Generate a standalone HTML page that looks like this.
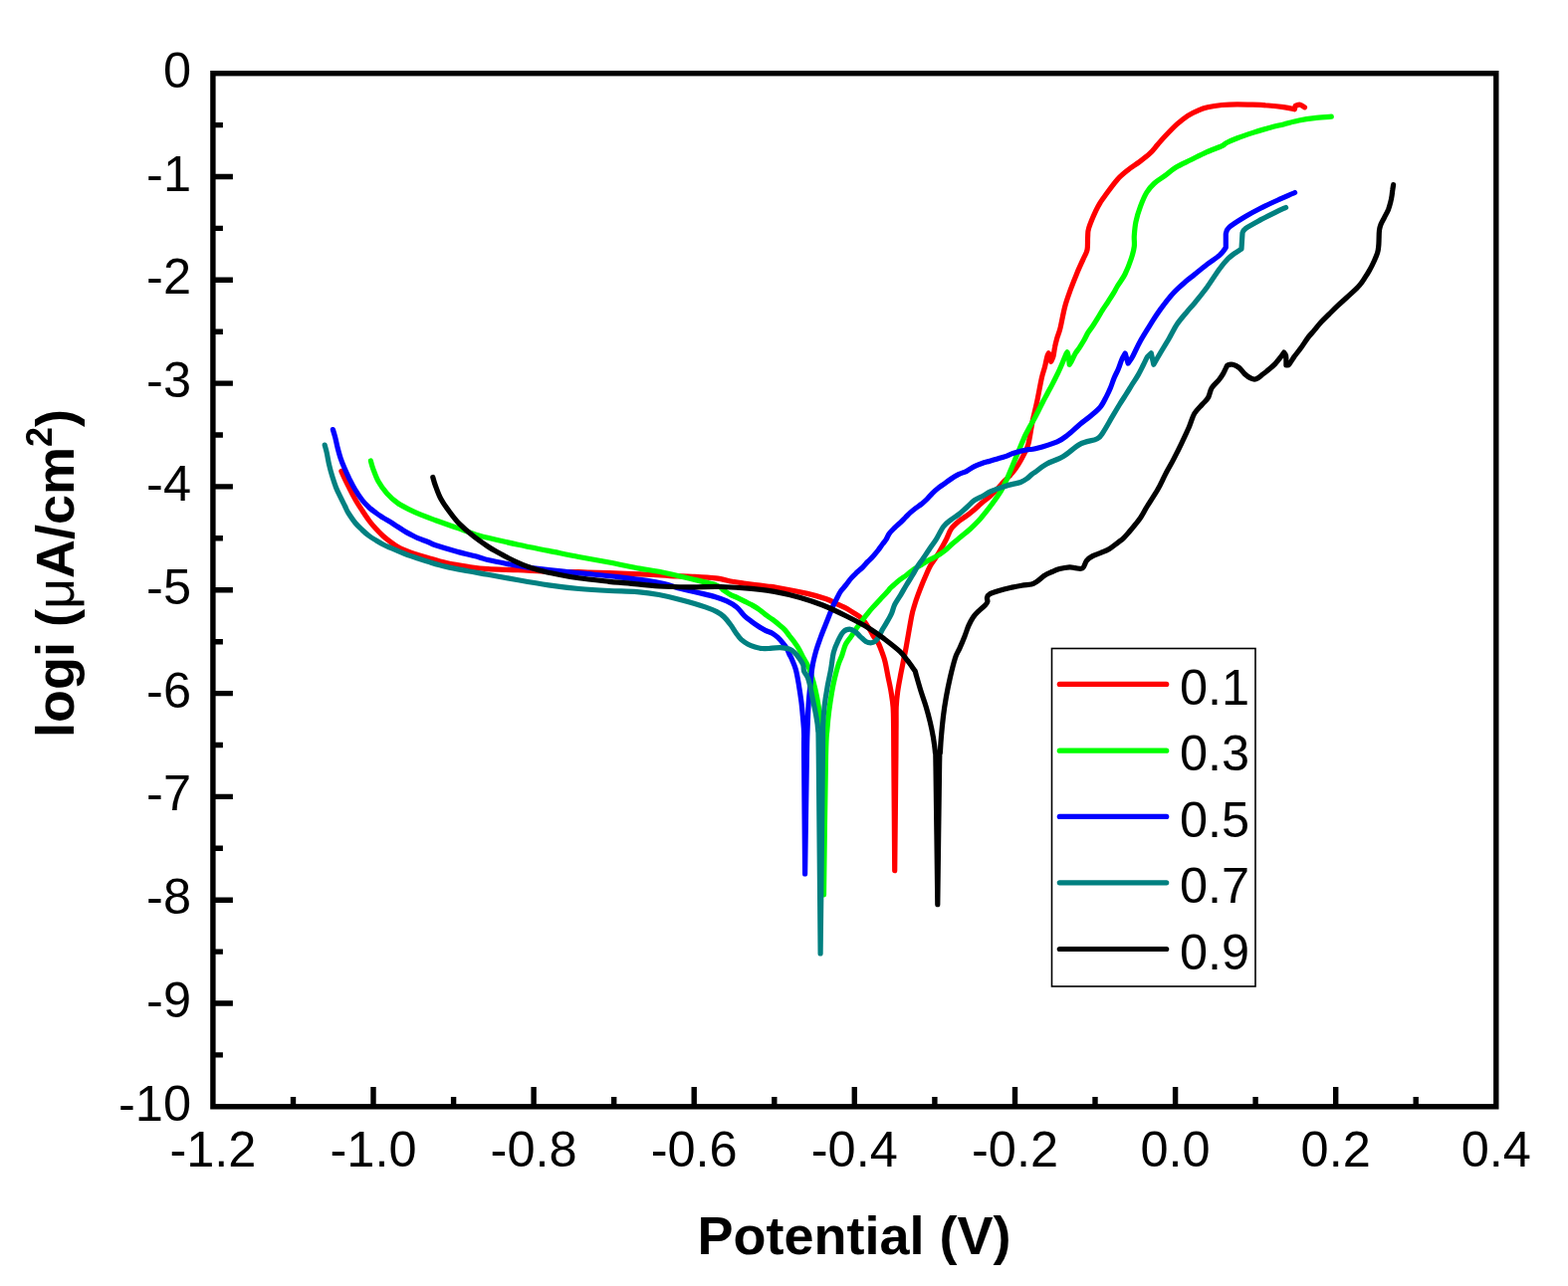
<!DOCTYPE html>
<html><head><meta charset="utf-8"><title>Polarization curves</title>
<style>html,body{margin:0;padding:0;background:#fff;width:1575px;height:1292px;overflow:hidden}svg{display:block}</style>
</head><body>
<svg width="1575" height="1292" viewBox="0 0 1575 1292"><path d="M294.5 1111.8V1102.0M375.0 1111.8V1091.9M455.6 1111.8V1102.0M536.1 1111.8V1091.9M616.7 1111.8V1102.0M697.2 1111.8V1091.9M777.8 1111.8V1102.0M858.3 1111.8V1091.9M938.9 1111.8V1102.0M1019.5 1111.8V1091.9M1100.0 1111.8V1102.0M1180.6 1111.8V1091.9M1261.1 1111.8V1102.0M1341.7 1111.8V1091.9M1422.2 1111.8V1102.0M213.9 125.6H223.9M213.9 177.5H233.9M213.9 229.4H223.9M213.9 281.3H233.9M213.9 333.2H223.9M213.9 385.1H233.9M213.9 437.0H223.9M213.9 488.9H233.9M213.9 540.8H223.9M213.9 592.8H233.9M213.9 644.7H223.9M213.9 696.6H233.9M213.9 748.5H223.9M213.9 800.4H233.9M213.9 852.3H223.9M213.9 904.2H233.9M213.9 956.1H223.9M213.9 1008.0H233.9M213.9 1059.9H223.9" stroke="#000" stroke-width="5.4" fill="none"/>
<rect x="213.9" y="73.7" width="1288.9" height="1038.1" stroke="#000" stroke-width="5.4" fill="none"/>
<g font-family="&quot;Liberation Sans&quot;, sans-serif" font-size="50.5" fill="#000"><text x="213.9" y="1172" text-anchor="middle">-1.2</text><text x="375.0" y="1172" text-anchor="middle">-1.0</text><text x="536.1" y="1172" text-anchor="middle">-0.8</text><text x="697.2" y="1172" text-anchor="middle">-0.6</text><text x="858.3" y="1172" text-anchor="middle">-0.4</text><text x="1019.5" y="1172" text-anchor="middle">-0.2</text><text x="1180.6" y="1172" text-anchor="middle">0.0</text><text x="1341.7" y="1172" text-anchor="middle">0.2</text><text x="1502.8" y="1172" text-anchor="middle">0.4</text><text x="192" y="87.7" text-anchor="end">0</text><text x="192" y="191.5" text-anchor="end">-1</text><text x="192" y="295.3" text-anchor="end">-2</text><text x="192" y="399.1" text-anchor="end">-3</text><text x="192" y="502.9" text-anchor="end">-4</text><text x="192" y="606.8" text-anchor="end">-5</text><text x="192" y="710.6" text-anchor="end">-6</text><text x="192" y="814.4" text-anchor="end">-7</text><text x="192" y="918.2" text-anchor="end">-8</text><text x="192" y="1022.0" text-anchor="end">-9</text><text x="192" y="1125.8" text-anchor="end">-10</text></g>
<text x="858" y="1260" text-anchor="middle" font-family="&quot;Liberation Sans&quot;, sans-serif" font-weight="bold" font-size="54">Potential (V)</text>
<text transform="translate(74 576) rotate(-90)" text-anchor="middle" font-family="&quot;Liberation Sans&quot;, sans-serif" font-weight="bold" font-size="54">logi (<tspan font-weight="normal">&#956;</tspan>A/cm<tspan font-size="36" dy="-22">2</tspan><tspan dy="22">)</tspan></text>
<path d="M342.9 473.4 C343.5 474.8 345.3 479.0 346.7 481.9 C348.1 484.8 349.3 487.1 351.0 490.5 C352.7 493.9 354.9 498.2 357.0 502.0 C359.1 505.8 361.6 509.5 363.9 513.0 C366.2 516.5 368.6 520.1 370.9 523.2 C373.2 526.3 375.6 529.1 377.9 531.6 C380.2 534.1 382.5 536.4 384.8 538.5 C387.1 540.6 389.5 542.4 391.8 544.1 C394.1 545.9 396.5 547.6 398.8 549.0 C401.1 550.4 403.4 551.5 405.7 552.5 C408.0 553.5 410.4 554.5 412.7 555.3 C415.0 556.1 416.8 556.5 419.7 557.4 C422.6 558.3 425.2 559.1 430.0 560.5 C434.8 561.9 441.6 564.1 448.3 565.6 C455.0 567.1 463.1 568.4 470.0 569.4 C476.9 570.4 481.6 571.2 490.0 571.7 C498.4 572.2 510.3 572.3 520.5 572.7 C530.7 573.1 540.9 573.9 551.0 574.2 C561.1 574.5 571.2 574.5 581.4 574.7 C591.5 575.0 600.5 575.3 611.9 575.7 C623.3 576.1 639.8 576.7 650.0 577.2 C660.2 577.7 665.3 578.2 672.9 578.6 C680.5 579.0 688.1 578.9 695.7 579.3 C703.3 579.7 711.9 580.1 718.6 580.9 C725.3 581.7 731.0 583.4 735.7 584.3 C740.5 585.1 741.3 585.2 747.1 586.0 C752.9 586.8 764.8 588.3 770.3 589.0 C775.8 589.7 773.2 589.0 780.0 590.2 C786.8 591.4 802.7 594.5 811.0 596.4 C819.3 598.3 825.3 600.2 830.0 601.8 C834.7 603.4 836.2 604.7 839.3 606.1 C842.4 607.5 845.8 609.0 848.6 610.4 C851.4 611.8 853.6 613.3 856.0 614.8 C858.4 616.2 860.7 617.5 862.8 619.1 C864.9 620.8 866.6 622.5 868.4 624.7 C870.2 626.9 871.8 629.6 873.4 632.1 C875.0 634.6 876.2 637.1 877.7 639.6 C879.2 642.1 881.2 643.9 882.7 647.0 C884.2 650.1 885.9 655.2 887.0 658.2 C888.1 661.2 888.2 661.4 889.1 665.1 C890.0 668.8 891.1 675.2 892.1 680.2 C893.1 685.2 894.3 690.3 895.1 695.3 C895.9 700.3 896.7 704.6 897.1 710.4 C897.5 716.2 897.5 721.7 897.6 730.0 C897.7 738.3 897.6 735.9 897.8 760.0 C898.0 784.1 898.6 855.5 898.7 874.6 C898.9 855.5 899.7 784.1 899.9 760.0 C900.1 735.9 900.0 738.3 900.1 730.0 C900.2 721.7 900.0 716.2 900.2 710.4 C900.5 704.6 900.9 700.3 901.6 695.3 C902.3 690.3 903.3 685.2 904.2 680.2 C905.1 675.2 906.2 670.1 907.2 665.1 C908.2 660.1 908.8 657.7 910.2 650.0 C911.6 642.3 914.3 626.1 915.7 619.0 C917.1 611.9 917.8 610.9 918.8 607.4 C919.8 603.9 920.7 601.3 921.9 598.1 C923.1 594.9 924.5 591.2 925.8 588.0 C927.1 584.8 928.3 582.0 929.7 578.8 C931.1 575.6 932.5 571.9 934.3 568.7 C936.1 565.5 938.7 562.2 940.5 559.4 C942.3 556.6 943.4 554.7 945.1 551.7 C946.8 548.7 948.9 545.0 950.6 541.6 C952.3 538.2 953.4 534.3 955.5 531.3 C957.6 528.3 960.6 525.8 963.2 523.6 C965.8 521.4 968.4 520.1 971.0 518.2 C973.6 516.3 976.1 514.2 978.7 512.0 C981.3 509.8 983.8 507.2 986.4 505.0 C989.0 502.8 991.6 501.1 994.2 498.8 C996.8 496.5 999.6 493.6 1001.9 491.1 C1004.2 488.7 1006.2 486.2 1008.1 484.1 C1010.0 482.0 1011.7 480.6 1013.5 478.7 C1015.3 476.8 1017.2 474.7 1018.9 472.5 C1020.6 470.3 1022.0 468.1 1023.6 465.5 C1025.2 462.9 1026.7 460.2 1028.2 457.0 C1029.8 453.8 1031.4 451.9 1032.9 446.2 C1034.4 440.5 1035.7 430.1 1037.2 422.9 C1038.7 415.7 1040.3 410.0 1041.8 402.8 C1043.3 395.6 1045.1 385.2 1046.4 379.5 C1047.7 373.8 1048.6 372.3 1049.5 368.7 C1050.4 365.1 1051.2 360.2 1051.9 357.9 C1052.6 355.6 1053.2 355.3 1053.4 354.8 C1053.8 356.2 1055.3 361.9 1055.7 363.3 C1056.1 362.4 1057.3 360.3 1058.0 357.9 C1058.7 355.4 1058.9 351.7 1059.6 348.6 C1060.2 345.5 1061.0 342.5 1061.9 339.3 C1062.8 336.1 1063.7 334.9 1065.0 329.7 C1066.3 324.5 1067.9 314.7 1069.7 308.0 C1071.5 301.3 1073.9 295.1 1075.9 289.4 C1078.0 283.7 1080.0 278.9 1082.0 274.0 C1084.0 269.1 1086.5 263.9 1088.2 260.0 C1089.9 256.1 1091.4 254.3 1092.1 250.7 C1092.8 247.1 1092.3 242.0 1092.6 238.4 C1092.9 234.8 1092.3 233.6 1093.7 229.1 C1095.1 224.6 1098.8 216.0 1100.8 211.7 C1102.8 207.3 1103.7 205.9 1105.5 203.0 C1107.3 200.1 1108.9 198.1 1111.7 194.3 C1114.5 190.5 1118.9 184.2 1122.5 180.2 C1126.1 176.2 1129.8 173.4 1133.4 170.5 C1137.0 167.6 1140.6 165.6 1144.2 162.9 C1147.8 160.2 1151.9 157.1 1155.0 154.2 C1158.1 151.3 1159.9 148.6 1162.6 145.5 C1165.3 142.4 1168.0 139.2 1171.3 135.8 C1174.5 132.4 1178.5 128.2 1182.1 124.9 C1185.7 121.7 1189.4 118.7 1193.0 116.3 C1196.6 113.9 1200.5 112.2 1203.8 110.8 C1207.1 109.4 1209.1 108.7 1213.0 107.8 C1216.9 106.9 1222.4 106.0 1227.4 105.5 C1232.4 105.0 1237.7 104.8 1242.9 104.8 C1248.1 104.8 1253.2 105.0 1258.4 105.2 C1263.6 105.4 1268.7 105.6 1273.8 106.0 C1278.9 106.4 1284.9 107.0 1289.3 107.6 C1293.7 108.2 1298.6 109.4 1300.4 109.8 C1300.5 109.2 1301.1 106.8 1301.2 106.2 C1302.0 106.0 1304.4 104.9 1305.9 105.2 C1307.5 105.5 1309.7 107.5 1310.5 107.9" stroke="#ff0000" stroke-width="5.2" fill="none" stroke-linejoin="round" stroke-linecap="round"/>
<path d="M372.4 463.0 C372.8 464.3 373.4 467.3 374.7 470.8 C376.0 474.3 377.8 479.7 380.1 483.8 C382.4 487.9 385.4 492.1 388.7 495.7 C391.9 499.3 395.1 502.4 399.6 505.5 C404.1 508.6 409.5 511.3 415.8 514.2 C422.1 517.1 430.3 520.1 437.5 522.8 C444.7 525.5 452.0 527.9 459.2 530.4 C466.4 532.9 475.7 536.4 480.8 538.0 C485.9 539.6 483.4 538.7 490.0 540.2 C496.6 541.8 510.3 545.1 520.5 547.3 C530.7 549.5 540.9 551.4 551.0 553.4 C561.1 555.4 571.2 557.6 581.4 559.5 C591.5 561.4 601.7 563.1 611.9 565.0 C622.1 566.9 634.1 569.6 642.4 571.1 C650.7 572.6 653.5 572.6 661.9 574.3 C670.3 576.0 683.2 579.0 692.9 581.3 C702.6 583.6 714.3 586.1 720.0 588.1 C725.7 590.1 724.7 591.6 727.0 593.2 C729.3 594.8 731.6 596.4 733.9 597.6 C736.2 598.8 738.6 599.5 740.9 600.6 C743.2 601.7 745.6 602.9 747.9 604.1 C750.2 605.3 752.5 606.3 754.8 607.6 C757.1 608.9 759.5 610.2 761.8 611.8 C764.1 613.4 766.5 615.7 768.8 617.4 C771.1 619.1 773.4 620.5 775.7 622.2 C778.0 623.9 780.6 626.0 782.7 627.8 C784.8 629.5 786.6 630.8 788.3 632.7 C790.0 634.6 791.5 636.9 793.1 639.0 C794.7 641.1 796.5 643.1 798.0 645.2 C799.5 647.3 800.8 649.0 802.2 651.5 C803.7 654.0 805.0 657.2 806.7 660.4 C808.4 663.6 810.6 666.6 812.3 670.6 C814.0 674.6 815.5 679.6 816.9 684.6 C818.3 689.6 819.5 694.7 820.6 700.4 C821.7 706.1 822.8 713.5 823.4 718.9 C824.0 724.3 824.0 726.0 824.4 732.9 C824.8 739.8 825.0 732.3 825.5 760.0 C826.0 787.7 827.2 875.8 827.5 899.0 C827.8 875.8 828.9 787.7 829.5 760.0 C830.1 732.3 830.4 740.5 830.9 732.9 C831.4 725.3 831.9 720.5 832.7 714.3 C833.5 708.1 834.6 701.1 835.5 695.7 C836.4 690.3 837.2 686.4 838.3 681.8 C839.4 677.2 840.8 671.8 842.0 667.9 C843.2 664.0 844.5 662.0 845.7 658.6 C846.9 655.2 847.9 650.6 849.4 647.4 C850.9 644.2 853.1 642.1 854.8 639.6 C856.5 637.1 858.1 634.5 859.7 632.1 C861.4 629.7 862.9 627.7 864.7 625.3 C866.5 622.9 868.3 620.4 870.3 617.9 C872.3 615.4 874.2 613.0 876.5 610.4 C878.8 607.8 881.3 605.2 883.9 602.4 C886.5 599.6 890.2 595.7 892.0 593.7 C893.8 591.7 893.0 592.1 894.8 590.4 C896.6 588.7 900.0 585.5 902.6 583.4 C905.2 581.3 907.7 579.9 910.3 578.0 C912.9 576.1 915.4 573.6 918.0 571.8 C920.6 570.0 923.2 568.8 925.8 567.2 C928.4 565.7 930.9 563.9 933.5 562.5 C936.1 561.1 938.7 560.1 941.3 558.6 C943.9 557.1 946.4 555.2 949.0 553.2 C951.6 551.2 954.0 548.6 956.7 546.3 C959.5 543.9 962.5 541.6 965.5 539.1 C968.5 536.6 971.9 533.9 974.8 531.3 C977.6 528.7 980.0 526.4 982.6 523.6 C985.2 520.8 987.7 517.5 990.3 514.3 C992.9 511.1 995.4 507.8 998.0 504.2 C1000.6 500.6 1003.6 496.3 1005.8 492.6 C1008.0 488.9 1009.7 485.2 1011.2 481.8 C1012.8 478.4 1013.8 475.6 1015.1 472.5 C1016.4 469.4 1017.6 466.3 1018.9 463.2 C1020.2 460.1 1021.5 457.0 1022.8 453.9 C1024.1 450.8 1025.5 447.4 1026.7 444.6 C1027.9 441.8 1028.7 439.7 1030.0 437.0 C1031.3 434.3 1033.1 431.1 1034.5 428.5 C1035.9 425.9 1037.1 424.1 1038.5 421.5 C1039.9 418.9 1041.4 416.0 1042.9 413.0 C1044.4 410.0 1046.1 406.6 1047.7 403.5 C1049.3 400.4 1051.0 397.3 1052.6 394.2 C1054.2 391.1 1055.9 388.2 1057.5 385.1 C1059.1 382.0 1060.9 378.5 1062.4 375.4 C1063.9 372.3 1065.1 369.6 1066.5 366.3 C1067.9 363.1 1069.8 358.0 1070.7 355.9 C1071.6 353.8 1071.9 354.1 1072.1 353.8 C1072.3 354.7 1073.2 357.3 1073.5 359.4 C1073.8 361.5 1074.1 365.1 1074.2 366.3 C1074.5 365.7 1075.2 364.9 1076.3 362.9 C1077.3 360.9 1079.2 356.7 1080.5 354.5 C1081.8 352.3 1082.6 351.9 1083.9 349.9 C1085.2 347.9 1087.1 344.9 1088.6 342.3 C1090.1 339.7 1091.4 336.7 1092.9 334.2 C1094.4 331.7 1096.2 329.6 1097.8 327.2 C1099.4 324.8 1101.0 322.2 1102.6 319.6 C1104.2 317.0 1105.8 314.1 1107.5 311.4 C1109.2 308.7 1111.1 306.1 1112.9 303.3 C1114.7 300.5 1116.8 297.3 1118.4 294.6 C1120.0 291.9 1120.8 290.2 1122.7 287.0 C1124.6 283.8 1127.8 280.0 1130.0 275.5 C1132.2 271.0 1134.7 264.6 1136.2 260.0 C1137.8 255.3 1138.8 251.5 1139.3 247.6 C1139.8 243.7 1139.0 240.9 1139.3 236.8 C1139.6 232.7 1139.9 227.8 1140.9 222.9 C1141.9 218.0 1143.7 212.3 1145.5 207.4 C1147.3 202.5 1149.4 197.4 1151.7 193.5 C1154.0 189.6 1156.3 187.0 1159.4 184.2 C1162.5 181.3 1166.7 179.1 1170.3 176.4 C1173.9 173.7 1176.7 170.8 1181.0 168.2 C1185.3 165.5 1191.2 163.1 1196.4 160.5 C1201.6 157.9 1206.7 155.1 1211.9 152.8 C1217.1 150.5 1224.1 148.2 1227.4 146.6 C1230.8 145.0 1229.4 144.8 1232.0 143.5 C1234.6 142.2 1238.5 140.5 1242.9 138.8 C1247.3 137.1 1253.2 135.1 1258.4 133.4 C1263.6 131.7 1268.7 130.2 1273.8 128.8 C1278.9 127.4 1284.1 126.2 1289.3 124.9 C1294.5 123.6 1299.6 122.0 1304.8 121.0 C1310.0 120.0 1314.9 119.3 1320.3 118.7 C1325.7 118.1 1334.5 117.5 1337.3 117.2" stroke="#00ff00" stroke-width="5.2" fill="none" stroke-linejoin="round" stroke-linecap="round"/>
<path d="M334.4 431.6 C334.8 432.9 335.9 436.4 336.7 439.4 C337.5 442.4 338.1 445.9 339.0 449.4 C339.9 452.9 340.9 456.8 342.1 460.3 C343.3 463.8 344.6 467.0 346.0 470.3 C347.4 473.6 348.9 476.9 350.6 480.4 C352.4 483.9 354.3 487.8 356.5 491.5 C358.7 495.2 361.5 499.4 363.9 502.5 C366.3 505.6 368.6 507.8 370.9 510.0 C373.2 512.2 375.6 513.8 377.9 515.5 C380.2 517.2 382.5 518.6 384.8 520.1 C387.1 521.6 389.5 522.8 391.8 524.2 C394.1 525.7 396.5 527.3 398.8 528.8 C401.1 530.3 403.4 531.8 405.7 533.2 C408.0 534.6 410.4 535.9 412.7 537.1 C415.0 538.3 416.8 539.4 419.7 540.6 C422.6 541.8 427.0 543.3 430.0 544.5 C433.0 545.7 432.6 546.1 437.5 547.7 C442.4 549.3 452.0 552.2 459.2 554.2 C466.4 556.2 475.7 558.3 480.8 559.7 C485.9 561.1 485.1 561.4 490.0 562.5 C494.9 563.6 503.5 565.3 510.3 566.6 C517.1 567.9 522.1 568.9 530.6 570.1 C539.1 571.3 550.9 572.6 561.1 573.7 C571.3 574.8 581.4 575.7 591.6 576.7 C601.8 577.7 612.4 578.7 622.1 579.8 C631.8 580.9 642.5 582.2 650.0 583.3 C657.5 584.4 661.4 585.2 667.1 586.6 C672.8 588.0 678.6 590.1 684.3 591.6 C690.0 593.1 695.7 594.0 701.4 595.4 C707.1 596.8 713.8 598.3 718.6 599.7 C723.4 601.1 726.4 602.2 730.0 603.9 C733.6 605.6 737.0 607.5 740.0 610.0 C743.0 612.5 745.4 616.4 747.9 618.8 C750.4 621.2 752.5 622.6 754.8 624.3 C757.1 626.0 759.5 627.7 761.8 629.2 C764.1 630.7 766.5 632.2 768.8 633.4 C771.1 634.6 773.6 635.0 775.7 636.2 C777.8 637.4 779.5 638.8 781.3 640.4 C783.0 642.0 784.7 644.0 786.2 645.9 C787.7 647.8 789.2 649.5 790.4 651.5 C791.5 653.5 792.2 655.9 793.1 657.8 C794.0 659.6 794.5 660.1 795.5 662.6 C796.5 665.1 798.2 668.5 799.3 672.5 C800.4 676.5 801.2 681.0 802.1 686.4 C803.0 691.8 804.1 698.8 804.9 705.0 C805.7 711.2 806.2 718.2 806.7 723.6 C807.2 729.0 807.5 731.4 807.6 737.5 C807.8 743.6 807.4 736.6 807.6 760.0 C807.8 783.4 808.4 858.3 808.6 878.0 C808.9 858.3 810.0 783.4 810.4 760.0 C810.8 736.6 810.7 743.6 810.9 737.5 C811.1 731.4 811.2 729.0 811.4 723.6 C811.6 718.2 811.8 711.2 812.3 705.0 C812.8 698.8 813.5 692.3 814.1 686.4 C814.7 680.5 815.1 675.1 816.0 669.7 C816.9 664.3 818.3 658.9 819.7 653.9 C821.1 648.9 822.8 644.5 824.4 640.0 C826.0 635.5 828.2 630.2 829.5 627.0 C830.8 623.8 830.6 624.2 831.9 621.0 C833.2 617.8 835.8 611.0 837.3 607.7 C838.8 604.4 839.4 603.5 840.6 601.2 C841.8 599.0 842.9 596.5 844.4 594.2 C845.9 592.0 848.0 590.0 849.8 587.7 C851.6 585.4 853.4 582.7 855.2 580.6 C857.0 578.5 858.8 576.9 860.6 575.2 C862.4 573.5 864.3 572.1 866.1 570.3 C867.9 568.5 869.7 566.3 871.5 564.4 C873.3 562.5 875.1 561.0 876.9 559.0 C878.7 557.0 880.7 554.6 882.3 552.5 C883.9 550.4 885.3 548.2 886.6 546.5 C887.9 544.8 888.9 543.9 890.0 542.2 C891.1 540.5 891.7 538.2 893.1 536.2 C894.5 534.2 896.7 532.1 898.5 530.3 C900.3 528.5 902.2 527.1 904.0 525.4 C905.8 523.7 907.6 521.8 909.4 520.0 C911.2 518.2 913.0 516.2 914.8 514.6 C916.6 513.0 918.4 511.6 920.2 510.2 C922.0 508.8 923.8 507.8 925.6 506.4 C927.4 504.9 929.3 503.3 931.1 501.5 C932.9 499.7 934.7 497.4 936.5 495.6 C938.3 493.8 940.1 492.1 941.9 490.7 C943.7 489.2 945.0 488.5 947.3 486.9 C949.6 485.3 952.9 482.8 955.5 481.0 C958.1 479.2 960.6 477.7 963.2 476.4 C965.8 475.1 968.4 474.6 971.0 473.3 C973.6 472.0 976.1 469.9 978.7 468.6 C981.3 467.3 983.8 466.4 986.4 465.5 C989.0 464.6 991.6 464.0 994.2 463.2 C996.8 462.4 999.3 461.7 1001.9 460.9 C1004.5 460.1 1007.1 459.5 1009.7 458.6 C1012.3 457.7 1014.8 456.4 1017.4 455.5 C1020.0 454.6 1022.5 453.8 1025.1 453.2 C1027.7 452.6 1030.4 452.0 1032.9 451.6 C1035.4 451.2 1035.2 452.1 1040.0 450.8 C1044.8 449.5 1056.4 446.1 1061.9 443.8 C1067.4 441.5 1068.9 439.8 1072.8 436.8 C1076.7 433.8 1081.2 429.2 1085.1 426.0 C1089.0 422.8 1092.6 420.4 1096.0 417.5 C1099.4 414.6 1102.7 412.1 1105.3 408.9 C1107.9 405.7 1109.8 401.3 1111.5 398.1 C1113.2 394.9 1114.2 392.6 1115.5 389.5 C1116.8 386.4 1117.9 382.6 1119.2 379.5 C1120.5 376.4 1121.9 374.1 1123.2 371.0 C1124.5 367.9 1125.7 363.7 1126.9 361.0 C1128.1 358.3 1129.7 356.0 1130.2 355.0 C1130.7 356.7 1132.6 363.3 1133.1 365.0 C1133.9 363.8 1135.7 361.7 1137.8 357.9 C1139.9 354.1 1142.3 348.1 1145.5 342.4 C1148.7 336.7 1153.7 328.9 1157.0 323.6 C1160.3 318.4 1162.0 315.7 1165.5 310.9 C1169.0 306.1 1174.0 299.4 1178.3 294.7 C1182.6 290.0 1187.5 285.9 1191.1 282.8 C1194.6 279.7 1196.1 278.9 1199.6 276.0 C1203.1 273.1 1208.0 269.0 1212.3 265.7 C1216.5 262.4 1221.9 259.2 1225.1 256.4 C1228.3 253.6 1230.3 250.0 1231.3 248.7 C1231.3 246.4 1231.3 237.3 1231.3 235.0 C1231.8 233.9 1231.2 231.5 1234.4 228.6 C1237.6 225.7 1245.3 221.0 1250.6 217.8 C1255.9 214.6 1260.6 212.1 1266.1 209.3 C1271.6 206.5 1277.8 203.6 1283.6 201.0 C1289.3 198.4 1297.8 194.8 1300.6 193.5" stroke="#0000ff" stroke-width="5.2" fill="none" stroke-linejoin="round" stroke-linecap="round"/>
<path d="M326.2 447.1 C326.5 448.4 327.5 451.6 328.2 454.8 C328.9 458.0 329.6 462.6 330.5 466.5 C331.4 470.4 332.4 474.2 333.6 478.1 C334.8 482.0 336.1 486.1 337.5 489.7 C338.9 493.3 340.6 496.6 342.1 499.7 C343.6 502.8 345.2 505.9 346.5 508.5 C347.8 511.1 348.2 512.7 350.0 515.5 C351.8 518.3 354.7 522.7 357.0 525.5 C359.3 528.3 361.6 530.3 363.9 532.5 C366.2 534.7 368.6 536.8 370.9 538.5 C373.2 540.2 375.6 541.6 377.9 543.0 C380.2 544.4 382.5 545.8 384.8 547.0 C387.1 548.2 389.5 549.2 391.8 550.2 C394.1 551.2 396.5 552.2 398.8 553.2 C401.1 554.2 403.4 555.1 405.7 556.0 C408.0 556.9 410.4 557.8 412.7 558.6 C415.0 559.4 416.8 560.0 419.7 561.0 C422.6 562.0 425.2 562.9 430.0 564.3 C434.8 565.7 441.6 567.8 448.3 569.4 C455.0 571.0 463.1 572.4 470.0 573.7 C476.9 575.0 481.6 575.7 490.0 577.2 C498.4 578.7 510.3 581.0 520.5 582.8 C530.7 584.6 540.9 586.4 551.0 587.9 C561.1 589.4 571.2 590.6 581.4 591.5 C591.5 592.4 602.1 593.0 611.9 593.5 C621.7 594.0 631.7 593.9 640.0 594.6 C648.3 595.3 654.4 596.1 661.9 597.5 C669.4 598.9 677.4 600.8 685.1 602.9 C692.9 605.0 702.6 607.9 708.4 609.9 C714.2 611.9 716.9 613.0 720.0 614.6 C723.1 616.2 724.7 617.3 727.0 619.5 C729.3 621.7 731.8 625.0 733.9 627.8 C736.0 630.6 737.8 633.8 739.5 636.2 C741.2 638.6 742.4 640.5 744.4 642.4 C746.4 644.2 749.0 646.0 751.3 647.3 C753.6 648.6 756.0 649.4 758.3 650.1 C760.6 650.8 763.0 651.3 765.3 651.5 C767.6 651.7 769.9 651.6 772.2 651.5 C774.5 651.4 776.9 650.9 779.2 650.8 C781.5 650.7 783.9 650.6 786.2 650.8 C788.5 651.0 791.1 651.4 793.1 652.2 C795.1 653.0 796.6 654.3 798.1 655.7 C799.6 657.1 800.7 658.4 802.1 660.4 C803.5 662.4 805.8 665.6 806.7 667.9 C807.6 670.2 806.8 672.2 807.6 674.4 C808.4 676.6 810.3 678.1 811.4 680.9 C812.5 683.7 813.2 687.1 814.1 691.1 C815.0 695.1 816.0 700.4 816.9 705.0 C817.8 709.6 818.9 714.2 819.7 718.9 C820.5 723.5 821.2 726.0 821.6 732.9 C822.0 739.8 821.9 722.5 822.3 760.0 C822.7 797.5 823.8 925.0 824.1 958.0 C824.5 925.0 826.0 798.3 826.4 760.0 C826.8 721.7 826.4 736.6 826.7 728.2 C827.0 719.8 827.4 715.9 828.1 709.7 C828.8 703.5 829.8 697.3 830.9 691.1 C832.0 684.9 833.5 678.5 834.6 672.5 C835.7 666.5 836.1 660.1 837.4 655.1 C838.7 650.1 840.8 646.1 842.4 642.7 C844.0 639.3 845.4 636.4 847.3 634.6 C849.1 632.8 851.5 632.1 853.5 632.1 C855.5 632.1 857.3 633.4 859.1 634.6 C860.9 635.9 862.3 638.0 864.1 639.6 C865.9 641.2 868.0 643.5 869.7 644.5 C871.5 645.5 873.1 645.8 874.6 645.8 C876.1 645.8 877.5 645.5 878.9 644.5 C880.2 643.5 881.6 641.5 882.7 639.6 C883.9 637.8 884.5 635.8 885.8 633.4 C887.1 631.0 889.1 628.2 890.7 625.3 C892.4 622.4 894.4 619.0 895.7 616.0 C897.0 613.0 897.2 610.5 898.7 607.4 C900.2 604.3 903.0 600.5 904.9 597.3 C906.8 594.1 908.4 591.2 910.3 588.0 C912.2 584.8 914.6 581.2 916.5 578.0 C918.4 574.8 920.1 571.5 921.9 568.7 C923.7 565.9 925.4 563.8 927.3 561.0 C929.2 558.2 931.3 554.9 933.5 551.7 C935.7 548.5 938.1 545.4 940.5 541.6 C942.9 537.8 945.2 532.3 947.7 529.0 C950.2 525.7 952.9 524.1 955.5 522.0 C958.1 519.9 960.6 518.6 963.2 516.6 C965.8 514.6 968.4 512.0 971.0 509.7 C973.6 507.4 976.1 504.5 978.7 502.7 C981.3 500.9 983.8 500.2 986.4 498.8 C989.0 497.4 991.6 495.5 994.2 494.2 C996.8 492.9 999.3 492.1 1001.9 491.1 C1004.5 490.1 1007.1 489.2 1009.7 488.4 C1012.3 487.6 1014.8 487.0 1017.4 486.4 C1020.0 485.8 1022.8 485.4 1025.1 484.5 C1027.4 483.6 1029.4 482.4 1031.3 481.0 C1033.2 479.6 1035.2 477.5 1036.7 476.4 C1038.2 475.2 1037.6 475.8 1040.0 474.1 C1042.4 472.4 1046.4 468.8 1051.1 466.2 C1055.8 463.6 1062.4 461.9 1068.1 458.5 C1073.8 455.1 1079.4 449.1 1085.1 446.1 C1090.8 443.1 1098.3 442.8 1102.2 440.7 C1106.1 438.6 1105.9 437.4 1108.4 433.7 C1110.9 430.0 1114.7 422.9 1117.4 418.4 C1120.1 413.9 1122.2 410.3 1124.5 406.5 C1126.8 402.7 1129.3 399.0 1131.4 395.7 C1133.5 392.4 1135.1 389.6 1137.0 386.5 C1138.9 383.4 1141.1 380.4 1143.0 377.1 C1144.9 373.8 1146.9 369.6 1148.5 366.5 C1150.1 363.4 1151.2 360.4 1152.5 358.5 C1153.8 356.6 1155.7 355.4 1156.3 354.8 C1156.7 356.7 1158.4 364.4 1158.8 366.3 C1159.8 364.5 1162.4 359.9 1165.0 355.5 C1167.6 351.1 1171.4 345.0 1174.3 340.0 C1177.2 335.0 1179.5 329.9 1182.6 325.3 C1185.7 320.7 1190.0 316.0 1192.8 312.6 C1195.6 309.2 1196.3 308.9 1199.6 304.9 C1202.8 300.9 1208.0 294.5 1212.3 288.7 C1216.5 282.9 1221.5 274.8 1225.1 270.0 C1228.6 265.2 1231.1 262.4 1233.6 259.8 C1236.1 257.2 1237.8 256.3 1240.0 254.7 C1242.2 253.1 1245.8 250.8 1247.0 250.0 C1247.2 247.3 1247.8 236.7 1248.0 234.0 C1248.5 233.3 1248.1 231.8 1251.1 229.6 C1254.1 227.4 1261.0 223.7 1266.1 220.9 C1271.2 218.2 1277.3 215.2 1281.6 213.1 C1285.8 211.0 1289.9 209.3 1291.6 208.5" stroke="#008080" stroke-width="5.2" fill="none" stroke-linejoin="round" stroke-linecap="round"/>
<path d="M434.8 479.5 C435.2 480.9 436.1 484.6 437.5 488.2 C438.9 491.8 440.5 496.9 442.9 501.2 C445.2 505.5 448.5 510.1 451.6 514.2 C454.7 518.4 457.3 522.1 461.3 526.1 C465.3 530.1 470.6 534.7 475.4 538.5 C480.2 542.3 485.9 546.2 490.0 549.0 C494.1 551.8 496.8 553.1 500.2 555.0 C503.6 556.9 506.1 558.4 510.3 560.5 C514.5 562.6 520.5 565.6 525.6 567.6 C530.7 569.6 534.9 571.1 540.8 572.7 C546.7 574.3 554.3 575.9 561.1 577.2 C567.9 578.6 572.9 579.6 581.4 580.8 C589.9 582.0 603.6 583.4 611.9 584.3 C620.2 585.1 622.7 585.1 631.0 585.9 C639.3 586.7 651.6 588.4 661.9 589.0 C672.2 589.6 682.6 589.7 692.9 589.8 C703.2 589.9 713.5 589.2 723.8 589.5 C734.1 589.8 745.8 590.5 754.8 591.3 C763.8 592.1 769.9 592.9 778.0 594.4 C786.1 595.9 795.1 597.9 803.2 600.2 C811.3 602.5 818.6 604.9 826.4 608.0 C834.1 611.1 842.0 614.9 849.7 618.8 C857.5 622.7 866.5 627.3 872.9 631.2 C879.3 635.1 883.2 638.1 888.4 642.0 C893.5 645.9 899.9 650.8 903.8 654.4 C907.7 658.0 909.0 660.4 911.6 663.7 C914.2 667.0 917.9 672.5 919.2 674.2 C919.4 674.9 919.3 674.7 920.3 678.2 C921.3 681.7 923.6 689.9 925.3 695.3 C927.0 700.7 928.8 705.4 930.3 710.4 C931.8 715.4 933.1 720.5 934.3 725.5 C935.5 730.5 936.5 735.6 937.4 740.6 C938.2 745.6 939.0 750.8 939.4 755.7 C939.8 760.6 939.6 744.5 940.0 770.0 C940.4 795.5 941.5 885.5 941.8 908.6 C942.1 885.5 943.2 795.5 943.6 770.0 C944.0 744.5 944.1 760.6 944.4 755.7 C944.7 750.8 944.9 746.5 945.4 740.6 C945.9 734.7 946.6 727.1 947.4 720.4 C948.2 713.7 949.2 707.0 950.4 700.3 C951.6 693.6 953.0 686.8 954.5 680.2 C956.0 673.7 958.0 665.8 959.5 661.0 C961.0 656.2 962.2 655.2 963.8 651.6 C965.4 648.0 967.5 643.0 969.0 639.2 C970.5 635.4 971.5 631.8 972.9 628.6 C974.3 625.4 975.8 622.6 977.4 620.2 C979.0 617.8 980.8 616.1 982.8 614.1 C984.8 612.1 988.1 609.6 989.6 608.0 C991.1 606.4 991.6 605.8 991.9 604.5 C992.2 603.2 991.1 601.7 991.5 600.4 C991.9 599.1 992.2 597.9 994.2 596.8 C996.2 595.6 999.9 594.5 1003.3 593.5 C1006.7 592.5 1011.0 591.4 1014.8 590.5 C1018.6 589.6 1022.7 588.8 1026.2 588.2 C1029.8 587.6 1033.6 587.6 1036.1 587.0 C1038.6 586.4 1039.2 585.9 1041.4 584.4 C1043.6 582.9 1046.5 579.9 1049.0 578.3 C1051.5 576.6 1054.2 575.6 1056.7 574.5 C1059.2 573.4 1061.4 572.4 1064.3 571.6 C1067.2 570.8 1071.7 570.0 1074.3 569.8 C1076.9 569.6 1077.8 570.4 1080.0 570.6 C1082.2 570.8 1085.5 572.1 1087.4 570.9 C1089.3 569.7 1089.8 565.3 1091.4 563.3 C1093.0 561.3 1094.7 560.2 1097.1 558.9 C1099.5 557.6 1102.8 556.6 1105.7 555.4 C1108.6 554.1 1111.4 553.1 1114.3 551.4 C1117.2 549.7 1120.5 546.9 1122.9 545.1 C1125.3 543.3 1126.7 542.4 1128.6 540.6 C1130.5 538.8 1132.4 536.5 1134.3 534.3 C1136.2 532.1 1138.1 529.8 1140.0 527.4 C1141.9 525.0 1143.6 523.1 1145.7 520.0 C1147.8 516.9 1149.5 513.2 1152.4 508.5 C1155.3 503.8 1159.8 497.2 1162.9 491.8 C1166.0 486.4 1168.2 481.1 1170.8 476.1 C1173.4 471.1 1176.1 466.7 1178.7 461.6 C1181.3 456.6 1184.0 451.3 1186.6 445.8 C1189.2 440.3 1192.3 433.8 1194.5 428.7 C1196.7 423.6 1197.5 419.2 1199.7 415.5 C1201.9 411.8 1205.3 409.0 1207.6 406.3 C1209.9 403.6 1212.0 402.2 1213.6 399.4 C1215.2 396.6 1215.4 392.5 1217.2 389.6 C1219.0 386.7 1222.3 384.1 1224.2 381.8 C1226.1 379.5 1227.3 377.7 1228.5 375.6 C1229.7 373.5 1230.8 370.9 1231.6 369.4 C1232.4 367.9 1232.1 367.3 1233.2 366.8 C1234.3 366.3 1236.4 365.8 1238.3 366.2 C1240.2 366.6 1242.6 367.8 1244.6 369.4 C1246.6 371.0 1248.3 373.9 1250.3 375.7 C1252.3 377.5 1254.8 379.3 1256.7 380.2 C1258.6 381.1 1259.8 381.4 1261.7 380.8 C1263.6 380.2 1266.0 377.9 1268.1 376.3 C1270.2 374.7 1272.3 373.1 1274.4 371.3 C1276.5 369.5 1278.7 367.8 1280.8 365.6 C1282.9 363.4 1285.6 359.8 1287.1 357.9 C1288.6 356.0 1289.3 354.7 1289.7 354.1 C1290.0 354.6 1291.2 355.2 1291.6 357.3 C1292.0 359.4 1291.9 365.2 1291.9 366.8 C1292.4 366.7 1293.5 367.6 1294.8 366.2 C1296.1 364.8 1297.9 361.2 1299.8 358.6 C1301.7 356.0 1303.8 353.6 1306.2 350.3 C1308.6 347.1 1311.7 342.0 1313.9 339.1 C1316.1 336.2 1317.1 335.5 1319.3 332.9 C1321.5 330.3 1324.5 326.4 1327.1 323.6 C1329.7 320.8 1332.2 318.5 1334.8 315.9 C1337.4 313.3 1340.0 310.6 1342.6 308.1 C1345.2 305.6 1347.7 303.4 1350.3 301.1 C1352.9 298.8 1355.4 296.6 1358.0 294.2 C1360.6 291.8 1363.6 289.0 1365.8 286.4 C1368.0 283.8 1369.5 281.3 1371.2 278.7 C1372.9 276.1 1374.4 273.8 1375.9 271.0 C1377.5 268.2 1379.2 264.6 1380.5 261.7 C1381.8 258.8 1382.9 256.2 1383.6 253.9 C1384.3 251.6 1384.5 250.0 1384.7 247.7 C1385.0 245.4 1385.0 242.7 1385.1 240.0 C1385.2 237.3 1385.2 233.7 1385.5 231.3 C1385.8 228.9 1386.1 227.8 1386.9 225.7 C1387.7 223.6 1389.1 221.4 1390.4 218.8 C1391.7 216.2 1393.5 213.0 1394.6 210.4 C1395.6 207.8 1396.1 205.7 1396.7 203.4 C1397.3 201.1 1397.8 198.6 1398.1 196.5 C1398.4 194.4 1398.5 192.7 1398.8 190.9 C1399.0 189.1 1399.5 186.6 1399.6 185.7" stroke="#000000" stroke-width="5.2" fill="none" stroke-linejoin="round" stroke-linecap="round"/>
<rect x="1056.5" y="651.5" width="204.5" height="339.5" fill="#fff" stroke="#000" stroke-width="1.6"/><path d="M1064.3 687.4H1171.7" stroke="#ff0000" stroke-width="5.2" stroke-linecap="round"/><text x="1185" y="707.6" font-family="&quot;Liberation Sans&quot;, sans-serif" font-size="50.5">0.1</text><path d="M1064.3 754.2H1171.7" stroke="#00ff00" stroke-width="5.2" stroke-linecap="round"/><text x="1185" y="774.4" font-family="&quot;Liberation Sans&quot;, sans-serif" font-size="50.5">0.3</text><path d="M1064.3 820.4H1171.7" stroke="#0000ff" stroke-width="5.2" stroke-linecap="round"/><text x="1185" y="840.6" font-family="&quot;Liberation Sans&quot;, sans-serif" font-size="50.5">0.5</text><path d="M1064.3 886.8H1171.7" stroke="#008080" stroke-width="5.2" stroke-linecap="round"/><text x="1185" y="907.0" font-family="&quot;Liberation Sans&quot;, sans-serif" font-size="50.5">0.7</text><path d="M1064.3 953.5H1171.7" stroke="#000000" stroke-width="5.2" stroke-linecap="round"/><text x="1185" y="973.7" font-family="&quot;Liberation Sans&quot;, sans-serif" font-size="50.5">0.9</text></svg>
</body></html>
